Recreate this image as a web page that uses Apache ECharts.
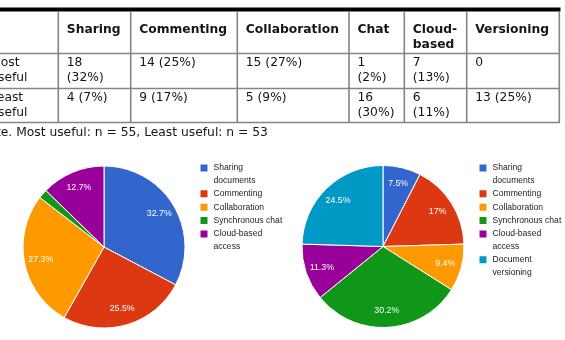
<!DOCTYPE html>
<html><head><meta charset="utf-8">
<script src="https://cdn.jsdelivr.net/npm/echarts@6/dist/echarts.min.js"></script>
<style>html,body{margin:0;padding:0;background:#fff}#c{width:565px;height:340px}</style>
</head><body><div id="c"></div>
<script>
// ---- data ----
const tableHeaders = ['Sharing', 'Commenting', 'Collaboration', 'Chat', 'Cloud-\nbased', 'Versioning'];
const rowLabels = ['Most\nuseful', 'Least\nuseful'];
const mostCounts = [18, 14, 15, 1, 7, 0];
const mostPct = [32, 25, 27, 2, 13, null];
const leastCounts = [4, 9, 5, 16, 6, 13];
const leastPct = [7, 17, 9, 30, 11, 25];
const noteText = 'Note. Most useful: n = 55, Least useful: n = 53';
const sliceNames = ['Sharing documents', 'Commenting', 'Collaboration', 'Synchronous chat', 'Cloud-based access', 'Document versioning'];
const legendWrapped = { 'Sharing documents': 'Sharing\ndocuments', 'Cloud-based access': 'Cloud-based\naccess', 'Document versioning': 'Document\nversioning' };
const sliceColors = ['#3366cc', '#dc3912', '#ff9900', '#109618', '#990099', '#0099c6'];

// ---- layout ----
const colX = [58.3, 130.7, 237.3, 349, 404.3, 466.7, 559.3];
const rowY = [11.5, 53.5, 88.5, 122.5];
const tFont = 'DejaVu Sans';
const tSize = 12.3;
const lineCol = '#858585';
const txtCol = '#151515';

const mctx = document.createElement('canvas').getContext('2d');
mctx.font = tSize + 'px "' + tFont + '"';
function fitCell(txt, w) {
  if (mctx.measureText(txt).width <= w) return txt;
  return txt.split(' ').join('\n');
}

const graphics = [];
graphics.push({ type: 'rect', shape: { x: 0, y: 7.5, width: 560.5, height: 4 }, style: { fill: '#000' }, silent: true });
for (let i = 1; i < rowY.length; i++) {
  graphics.push({ type: 'line', shape: { x1: 0, y1: rowY[i], x2: colX[colX.length - 1] + 0.8, y2: rowY[i] }, style: { stroke: lineCol, lineWidth: 1.6 }, silent: true });
}
colX.forEach(x => {
  graphics.push({ type: 'line', shape: { x1: x, y1: rowY[0], x2: x, y2: rowY[3] }, style: { stroke: lineCol, lineWidth: 1.6 }, silent: true });
});
tableHeaders.forEach((h, i) => {
  graphics.push({ type: 'text', silent: true, style: { text: h, x: colX[i] + 8.5, y: 23, fontFamily: tFont, fontSize: tSize, fontWeight: 'bold', lineHeight: 14.5, verticalAlign: 'top', fill: txtCol } });
});
const rows = [[mostCounts, mostPct], [leastCounts, leastPct]];
rows.forEach((r, ri) => {
  const top = rowY[ri + 1] + 2;
  graphics.push({ type: 'text', silent: true, style: { text: rowLabels[ri], x: -9.8, y: top, fontFamily: tFont, fontSize: tSize, lineHeight: 15, verticalAlign: 'top', fill: txtCol } });
  r[0].forEach((v, ci) => {
    const txt = r[1][ci] == null ? String(v) : v + ' (' + r[1][ci] + '%)';
    graphics.push({ type: 'text', silent: true, style: { text: fitCell(txt, colX[ci + 1] - colX[ci] - 18), x: colX[ci] + 8.5, y: top, fontFamily: tFont, fontSize: tSize, lineHeight: 15, verticalAlign: 'top', fill: txtCol } });
  });
});
graphics.push({ type: 'text', silent: true, style: { text: noteText, x: -20.8, y: 132.5, fontFamily: tFont, fontSize: tSize, verticalAlign: 'middle', fill: txtCol } });

function pieData(counts) {
  const out = [];
  counts.forEach((v, i) => { if (v > 0) out.push({ name: sliceNames[i], value: v, itemStyle: { color: sliceColors[i] } }); });
  return out;
}
const leftData = pieData(mostCounts);
const rightData = pieData(leastCounts);

function makeFormatter(data) {
  const total = data.reduce((a, d) => a + d.value, 0);
  return function (params) {
    const pct = params.value / total * 100;
    if (pct < 4) return '';
    let s = (Math.round(pct * 10) / 10).toFixed(1);
    if (s.endsWith('.0')) s = s.slice(0, -2);
    return s + '%';
  };
}

const R = 81;
function pieSeries(center, data) {
  return [{
    type: 'pie', center: center, radius: [0, R], startAngle: 90, clockwise: true,
    data: data, label: { show: false }, labelLine: { show: false },
    itemStyle: { borderColor: '#fff', borderWidth: 1 },
    emphasis: { disabled: true }, silent: true, animation: false, avoidLabelOverlap: false
  }, {
    type: 'pie', center: center, radius: [R * 0.52, R], startAngle: 90, clockwise: true,
    data: data.map(d => ({ name: d.name, value: d.value })),
    itemStyle: { color: 'rgba(0,0,0,0)', borderWidth: 0 },
    label: { show: true, position: 'inside', color: '#fff', fontSize: 8.8, fontFamily: 'Liberation Sans', formatter: makeFormatter(data) },
    labelLine: { show: false },
    emphasis: { disabled: true }, silent: true, animation: false, avoidLabelOverlap: false, legendHoverLink: false
  }];
}

const LH = 12.4;
function legends(data, left) {
  const out = [];
  let lines = 0;
  data.forEach((d, idx) => {
    const wrapped = legendWrapped[d.name];
    const nBlock = wrapped ? 3 : 1;
    const firstY = 168 + lines * LH + idx * 1.0;
    out.push({
      left: left, top: firstY - nBlock * LH / 2, orient: 'vertical', padding: 0,
      itemWidth: 9, itemHeight: 9, itemGap: 0, icon: 'rect', selectedMode: false,
      data: [d.name],
      formatter: n => legendWrapped[n] ? '\n' + legendWrapped[n] : n,
      textStyle: { fontSize: 8.6, fontFamily: 'Liberation Sans', color: '#222', lineHeight: LH }
    });
    lines += wrapped ? 2 : 1;
  });
  return out;
}

const chart = echarts.init(document.getElementById('c'), null, { renderer: 'canvas' });
chart.setOption({
  backgroundColor: '#fff',
  animation: false,
  legend: legends(leftData, 198.5).concat(legends(rightData, 477.5)),
  series: pieSeries([104, 247], leftData).concat(pieSeries([383, 246.5], rightData)),
  graphic: graphics
});
</script>
</body></html>
